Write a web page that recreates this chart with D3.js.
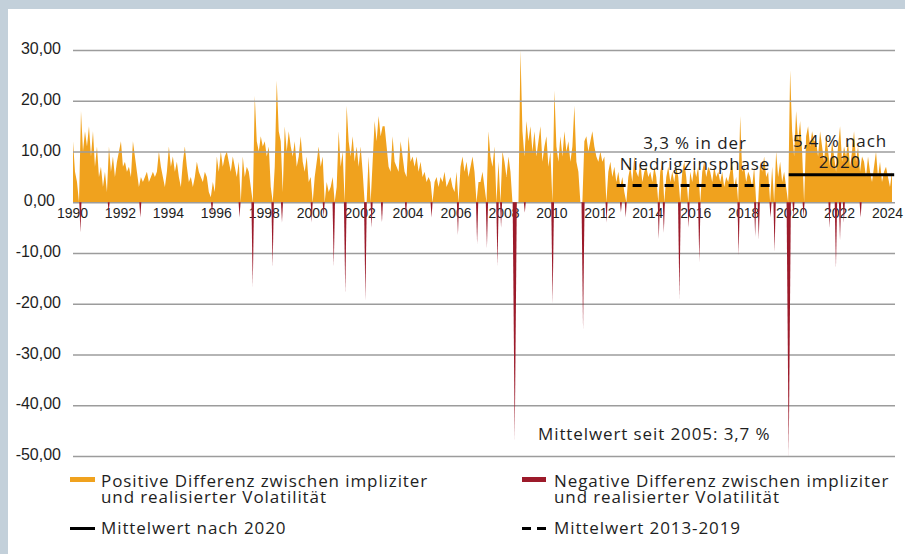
<!DOCTYPE html>
<html>
<head>
<meta charset="utf-8">
<script src="https://cdn.jsdelivr.net/npm/d3@7"></script>
<style>
  body { margin: 0; background: #c3d0da; }
  svg { display: block; font-family: "Open Sans", "Noto Sans", sans-serif; }
</style>
</head>
<body>
<svg id="chart" width="905" height="554"></svg>
<script>
// monthly positive difference (implied - realised volatility), Jan 1990 .. Mar 2024
const posStart = 1990
const posValues = [
  12, 6, 4, 0, 18, 10, 14, 11, 15, 9, 14, 7,    // 1990
  11, 5, 7, 3, 6, 2, 11, 6, 9, 5, 8, 10,         // 1991
  12, 7, 8, 6, 7, 5, 12, 9, 6, 3, 5, 4,          // 1992
  5, 6, 4, 5, 6, 5, 6, 10, 7, 5, 3, 6,           // 1993
  11, 7, 9, 6, 8, 5, 3, 8, 11, 7, 4, 5,          // 1994
  3, 5, 8, 6, 5, 4, 6, 5, 2, 1, 4, 2,            // 1995
  9, 6, 10, 7, 9, 10, 8, 6, 9, 7, 5, 8,          // 1996
  0, 9, 5, 7, 6, 3, 0, 21, 12, 10, 13, 11,       // 1997
  12, 9, 11, 3, 0, 7, 24, 14, 12, 2, 15, 10,     // 1998
  14, 11, 9, 12, 7, 9, 13, 8, 6, 9, 4, 5,        // 1999
  0, 5, 8, 11, 7, 9, 0, 4, 2, 3, 5, 0,           // 2000
  3, 14, 7, 10, 0, 19, 12, 9, 13, 8, 11, 7,      // 2001
  11, 6, 0, 0, 9, 0, 8, 16, 12, 17, 13, 15,      // 2002
  15, 11, 7, 6, 13, 8, 7, 6, 12, 9, 6, 5,        // 2003
  13, 8, 9, 7, 9, 6, 8, 5, 6, 4, 5, 4,           // 2004
  0, 4, 5, 3, 5, 4, 6, 3, 4, 5, 3, 2,            // 2005
  6, 0, 7, 9, 6, 8, 5, 7, 9, 6, 0, 4,            // 2006
  4, 6, 3, 0, 14, 9, 7, 11, 0, 8, 0, 10,         // 2007
  8, 5, 9, 6, 0, 0, 0, 0, 30, 14, 9, 16,         // 2008
  12, 15, 10, 14, 9, 12, 15, 8, 11, 13, 7, 10,   // 2009
  0, 22, 11, 8, 13, 9, 14, 10, 12, 8, 11, 19,    // 2010
  8, 6, 0, 0, 12, 13, 10, 12, 14, 11, 9, 8,      // 2011
  10, 8, 9, 0, 6, 8, 5, 7, 4, 6, 3, 5,           // 2012
  2, 0, 5, 7, 4, 9, 6, 5, 8, 4, 6, 7,            // 2013
  5, 6, 4, 7, 5, 0, 6, 8, 0, 5, 7, 4,            // 2014
  6, 4, 7, 5, 0, 6, 8, 5, 0, 6, 4, 7,            // 2015
  5, 7, 0, 6, 8, 5, 7, 6, 4, 7, 5, 6,            // 2016
  4, 6, 3, 5, 4, 6, 8, 3, 5, 0, 17, 6,           // 2017
  7, 4, 6, 5, 3, 7, 0, 0, 8, 6, 9, 5,            // 2018
  6, 0, 7, 0, 10, 5, 8, 4, 6, 3, 0, 26,          // 2019
  14, 9, 18, 12, 16, 10, 0, 13, 15, 11, 14, 12,  // 2020
  12, 9, 14, 11, 8, 13, 10, 7, 12, 9, 6, 11,     // 2021
  15, 8, 11, 9, 12, 7, 10, 14, 8, 11, 6, 9,      // 2022
  8, 5, 9, 6, 4, 7, 10, 5, 8, 4, 6, 7,           // 2023
  5, 3, 6                                        // 2024
]

// negative differences (spikes): date as fractional year, value
const negDates = [1990.35, 1991.53, 1992.85, 1995.84, 1996.99, 1997.54, 1998.37, 1998.76,
  2000.0, 2000.5, 2000.92, 2001.4, 2002.24, 2002.5, 2002.93, 2003.93, 2005.0, 2006.1,
  2006.9, 2007.31, 2007.75, 2007.9, 2008.47, 2008.89, 2010.05, 2011.32, 2012.3, 2012.9,
  2013.1, 2014.48, 2014.69, 2015.34, 2015.72, 2016.17, 2017.81, 2018.5, 2018.65, 2019.14,
  2019.31, 2019.9, 2020.1, 2020.52, 2021.6, 2021.87, 2022.04, 2022.2, 2022.9]
const negValues = [-6, -2, -3, -2.5, -3, -16.8, -12.8, -4,
  -4, -3, -12.7, -18, -19.3, -5, -4, -3, -3, -6.5,
  -8.2, -9, -12.5, -5, -47, -2, -20, -25, -4, -2,
  -3, -7.3, -6, -19, -5, -11.8, -10.5, -6.8, -7.3, -3,
  -9.8, -50, -3, -3, -5, -13, -7.5, -4, -3]

// mean lines
const meanLow = { from: 2012.72, to: 2019.77, value: 3.3 }   // 2013-2019
const meanHigh = { from: 2019.9, to: 2024.3, value: 5.4 }    // nach 2020

const yTicks = [30, 20, 10, 0, -10, -20, -30, -40, -50]
const xTicks = [1990, 1992, 1994, 1996, 1998, 2000, 2002, 2004, 2006, 2008,
  2010, 2012, 2014, 2016, 2018, 2020, 2022, 2024]

const colors = { pos: '#f0a21e', neg: '#9c1a2a', grid: '#9c9c9c', text: '#1e1e1e' }

const svg = d3.select('#chart')
svg.append('rect').attr('x', 8).attr('y', 9).attr('width', 897).attr('height', 545).attr('fill', '#fff')

const x = d3.scaleLinear().domain([1990, 2024]).range([72, 887])
const y = d3.scaleLinear().domain([-50, 30]).range([456, 50])
const gridLeft = 73, gridRight = 895

const locale = d3.formatLocale({ decimal: ',', thousands: '.', grouping: [3], currency: ['', ''], minus: '-' })
const fmt = locale.format('.2f')

// positive area
const posData = posValues.map((v, i) => ({ t: posStart + (i + 0.5) / 12, v }))
svg.append('path')
  .datum(posData)
  .attr('fill', colors.pos)
  .attr('d', d3.area().x(d => x(d.t)).y0(y(0)).y1(d => y(d.v)))

// y grid + labels
const yAxis = svg.append('g')
  .attr('transform', `translate(${gridLeft},0)`)
  .call(d3.axisLeft(y).tickValues(yTicks).tickSize(-(gridRight - gridLeft)).tickPadding(12).tickFormat(fmt))
yAxis.select('.domain').remove()
yAxis.selectAll('line').attr('stroke', colors.grid).attr('stroke-width', 1.6)
yAxis.selectAll('text')
  .attr('fill', colors.text).attr('font-size', 16).attr('dy', '0.22em')
  .attr('x', d => d === 0 ? -18 : -12)

// x labels
const xAxis = svg.append('g')
  .attr('transform', `translate(0,${y(0)})`)
  .call(d3.axisBottom(x).tickValues(xTicks).tickSize(0).tickPadding(6).tickFormat(d3.format('d')))
xAxis.select('.domain').remove()
xAxis.selectAll('text').attr('fill', colors.text).attr('font-size', 14)

// negative spikes
const negData = negDates.map((t, i) => ({ t, v: negValues[i] }))
svg.append('g')
  .selectAll('path')
  .data(negData)
  .enter()
  .append('path')
    .attr('fill', colors.neg)
    .attr('d', d => {
      let hw = 0.9 + Math.abs(d.v) / 40
      return `M${x(d.t) - hw},${y(0)}L${x(d.t)},${y(d.v)}L${x(d.t) + hw},${y(0)}Z`
    })

// mean lines
svg.append('line')
  .attr('x1', x(meanLow.from)).attr('x2', x(meanLow.to))
  .attr('y1', y(meanLow.value)).attr('y2', y(meanLow.value))
  .attr('stroke', '#000').attr('stroke-width', 3).attr('stroke-dasharray', '9,7')
svg.append('line')
  .attr('x1', x(meanHigh.from)).attr('x2', x(meanHigh.to))
  .attr('y1', y(meanHigh.value)).attr('y2', y(meanHigh.value))
  .attr('stroke', '#000').attr('stroke-width', 3)

// multi-line text helper (one <text>, lines as tspans)
const block = (g, lines, tx, ty, anchor, lh) => {
  let t = g.append('text').attr('x', tx).attr('y', ty)
    .attr('text-anchor', anchor).attr('fill', colors.text)
    .attr('font-size', 17).attr('letter-spacing', 0.9)
  lines.forEach((l, i) => t.append('tspan').attr('x', tx).attr('dy', i ? lh : 0).text(l))
  return t
}

// annotations
block(svg, ['3,3 % in der', 'Niedrigzinsphase'], 695, 149, 'middle', 21)
block(svg, ['5,4 % nach', '2020'], 840, 147, 'middle', 21)
block(svg, ['Mittelwert seit 2005: 3,7 %'], 538, 440, 'start', 0)

// legend
const lg = svg.append('g')
lg.append('rect').attr('x', 70).attr('y', 477).attr('width', 25).attr('height', 5).attr('fill', colors.pos)
block(lg, ['Positive Differenz zwischen impliziter', 'und realisierter Volatilität'], 101, 487, 'start', 16)
lg.append('rect').attr('x', 522).attr('y', 477).attr('width', 24).attr('height', 5).attr('fill', colors.neg)
block(lg, ['Negative Differenz zwischen impliziter', 'und realisierter Volatilität'], 554, 487, 'start', 16)

lg.append('line').attr('x1', 70).attr('x2', 95).attr('y1', 528.5).attr('y2', 528.5)
  .attr('stroke', '#000').attr('stroke-width', 3)
block(lg, ['Mittelwert nach 2020'], 101, 534, 'start', 0)
lg.append('line').attr('x1', 522).attr('x2', 546).attr('y1', 528.5).attr('y2', 528.5)
  .attr('stroke', '#000').attr('stroke-width', 3).attr('stroke-dasharray', '9,6')
block(lg, ['Mittelwert 2013-2019'], 554, 534, 'start', 0)
</script>
</body>
</html>
